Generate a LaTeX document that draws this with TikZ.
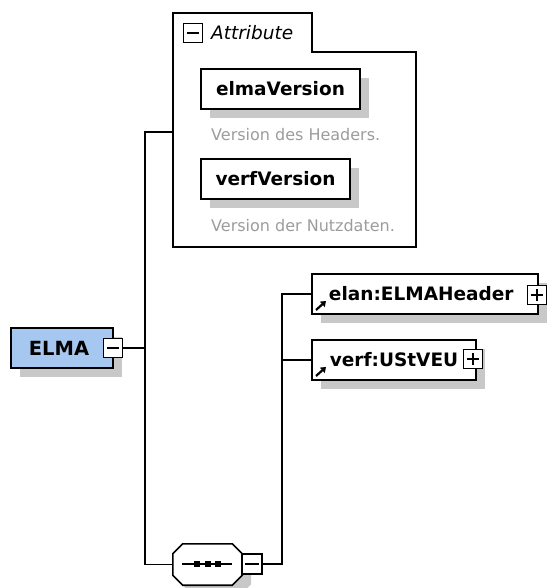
\documentclass[tikz,border=0pt]{standalone}
\usepackage{fontspec}
\setmainfont{DejaVu Sans}
\usepackage{tikz}
\usetikzlibrary{positioning,shadows,arrows.meta}
\definecolor{elmfill}{HTML}{A6C8F0}
\definecolor{shade}{HTML}{C8C8C8}
\definecolor{doctext}{HTML}{9C9C9C}

\begin{document}
\begin{tikzpicture}[
        x=1pt, y=-1pt,
        every node/.style={
            inner sep=0pt,
            font=\fontsize{18.5}{20}\selectfont\bfseries
        },
        elem/.style={
            rectangle,
            draw=black,
            line width=1.7pt,
            fill=white,
            minimum height=40pt,
            drop shadow={opacity=1, fill=shade, shadow xshift=9pt, shadow yshift=-9pt}
        },
        toggle/.style={
            rectangle,
            draw=black,
            line width=1.3pt,
            fill=white,
            minimum size=19pt
        },
        doc/.style={
            anchor=base west,
            text=doctext,
            font=\fontsize{16}{18}\selectfont
        },
        wire/.style={
            line width=1.5pt,
            color=black
        },
        refarrow/.style={
            -{Triangle[length=5pt,width=7pt]},
            line width=2.2pt
        }
    ]
        \useasboundingbox (0,0) rectangle (547,588);

        % attribute group
        \draw[line width=1.4pt] (173,13) -- (312,13) -- (312,52) -- (416,52)
            -- (416,247) -- (173,247) -- cycle;
        \node[toggle, minimum size=19pt] (attrminus) at (193,33) {};
        \draw[line width=1.3pt] ([xshift=4pt]attrminus.west) -- ([xshift=-4pt]attrminus.east);
        \node[anchor=base west, font=\fontsize{18.5}{20}\selectfont\itshape] (attrlabel) at (211,40) {Attribute};

        \node[elem, minimum width=159pt] (elmaver) at (280.5,89) {elmaVersion};
        \node[doc] (elmadoc) at (211,141) {Version des Headers.};
        \node[elem, minimum width=149pt] (verfver) at (275.5,179) {verfVersion};
        \node[doc] (verfdoc) at (211,231) {Version der Nutzdaten.};

        % root element
        \node[elem, fill=elmfill, minimum width=102pt,
              font=\fontsize{19.5}{20}\selectfont\bfseries] (elma) at (62,348) {\hspace*{-6pt}ELMA};
        \node[toggle] (elmaminus) at (113,348) {};
        \draw[line width=1.3pt] ([xshift=4pt]elmaminus.west) -- ([xshift=-4pt]elmaminus.east);

        % sequence
        \node[minimum width=69pt, minimum height=41pt] (seq) at (207.5,564.5) {};
        \filldraw[line width=1.6pt, fill=white,
              drop shadow={opacity=1, fill=shade, shadow xshift=9pt, shadow yshift=-9pt}]
            ([xshift=10pt]seq.north west) -- ([xshift=-10pt]seq.north east)
            -- ([yshift=-10pt]seq.north east) -- ([yshift=10pt]seq.south east)
            -- ([xshift=-10pt]seq.south east) -- ([xshift=10pt]seq.south west)
            -- ([yshift=10pt]seq.south west) -- ([yshift=-10pt]seq.north west) -- cycle;
        \draw[line width=1.3pt] (182,564) -- (232,564);
        \foreach \dx in {197,208,218}
            \fill (\dx,564) +(-3,-3) rectangle +(3,3);
        \node[toggle, minimum size=20pt] (seqminus) at (252,564) {};
        \draw[line width=1.3pt] ([xshift=4pt]seqminus.west) -- ([xshift=-4pt]seqminus.east);

        % child elements
        \node[elem, minimum width=226pt] (elan) at (425,294) {\hspace*{-7.5pt}elan:ELMAHeader};
        \node[toggle] (elanplus) at (537,295) {};
        \draw[line width=1.3pt] ([xshift=4pt]elanplus.west) -- ([xshift=-4pt]elanplus.east)
            ([yshift=4pt]elanplus.south) -- ([yshift=-4pt]elanplus.north);
        \draw[refarrow] (316,310) -- (326,301);

        \node[elem, minimum width=164pt] (verf) at (394,360) {verf:UStVEU};
        \node[toggle] (verfplus) at (473,359) {};
        \draw[line width=1.3pt] ([xshift=4pt]verfplus.west) -- ([xshift=-4pt]verfplus.east)
            ([yshift=4pt]verfplus.south) -- ([yshift=-4pt]verfplus.north);
        \draw[refarrow] (316,376) -- (326,367);

        % connectors
        \coordinate (attrin) at (173,132);
        \coordinate (trunktop) at (145,132);
        \coordinate (branchtop) at (282,294);

        \draw[wire] (elmaminus.east) -- (elmaminus.east -| trunktop);
        \draw[wire] (attrin) -- (trunktop) -- (trunktop |- seq.west) -- (seq.west);
        \draw[wire] (seqminus.east) -- (seqminus.east -| branchtop) -- (branchtop) -- (elan.west);
        \draw[wire] (verf.west -| branchtop) -- (verf.west);
    \end{tikzpicture}
\end{document}
